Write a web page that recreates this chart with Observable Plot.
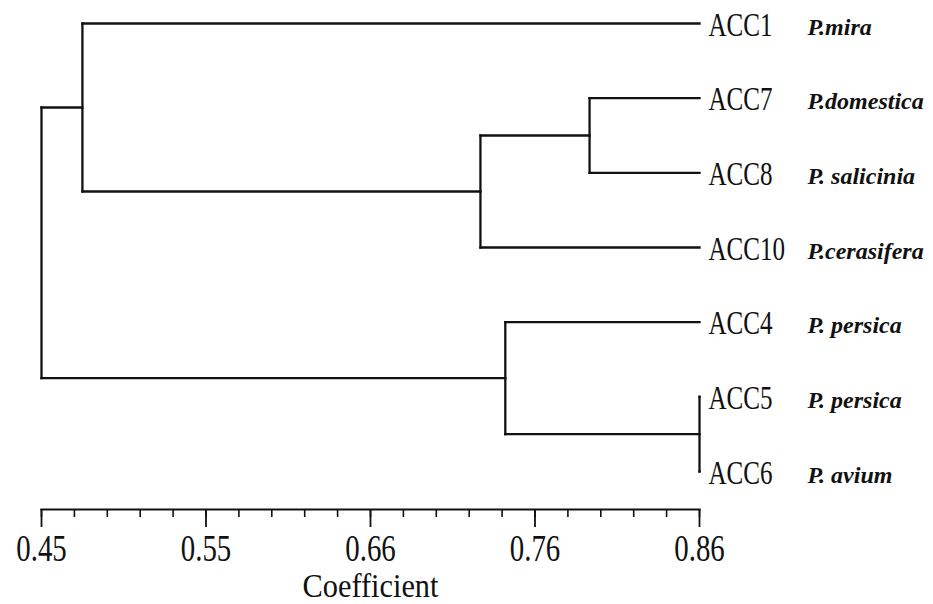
<!DOCTYPE html>
<html>
<head>
<meta charset="utf-8">
<script src="https://cdn.jsdelivr.net/npm/d3@7"></script>
<script src="https://cdn.jsdelivr.net/npm/@observablehq/plot@0.6"></script>
<style>
  html, body { margin: 0; padding: 0; background: #ffffff; }
  svg { display: block; }
</style>
</head>
<body>
<div id="chart"></div>
<script>
// Leaves (top to bottom) and species names
const leaves = ["ACC1", "ACC7", "ACC8", "ACC10", "ACC4", "ACC5", "ACC6"];
const species = ["P.mira", "P.domestica", "P. salicinia", "P.cerasifera", "P. persica", "P. persica", "P. avium"];

// Merges (cluster id, children, similarity coefficient)
const mergeIds  = ["n1", "n2", "n3", "n4", "n5", "root"];
const mergeA    = ["ACC7", "n1", "ACC1", "ACC5", "ACC4", "n3"];
const mergeB    = ["ACC8", "ACC10", "n2", "ACC6", "n4", "n5"];
const mergeCoef = [0.7915, 0.7235, 0.4755, 0.86, 0.739, 0.45];

// Axis
const axisDomain = [0.45, 0.86];
const majorTicks = [0.45, 0.5525, 0.655, 0.7575, 0.86];
const tickLabels = ["0.45", "0.55", "0.66", "0.76", "0.86"];
const minorTicks = d3.range(21).map(i => 0.45 + i * 0.0205);
const axisTitle = "Coefficient";

// Layout of the dendrogram
const pos = {};
leaves.forEach((n, i) => pos[n] = {x: axisDomain[1], y: i});
const segs = [];
mergeIds.forEach((id, k) => {
  const a = pos[mergeA[k]], b = pos[mergeB[k]], c = mergeCoef[k];
  pos[id] = {x: c, y: (a.y + b.y) / 2};
  segs.push({x1: c, y1: a.y, x2: c, y2: b.y});
  segs.push({x1: c, y1: a.y, x2: a.x, y2: a.y});
  segs.push({x1: c, y1: b.y, x2: b.x, y2: b.y});
});
const leafRows = leaves.map((n, i) => ({name: n, species: species[i], y: i, x: axisDomain[1]}));

const serif = "Liberation Serif";

const svg = Plot.plot({
  width: 933,
  height: 604,
  marginLeft: 41,
  marginRight: 234,
  marginTop: 23,
  marginBottom: 95,
  style: {fontFamily: serif, background: "#ffffff", color: "#111"},
  x: {domain: axisDomain, range: [41, 699]},
  y: {domain: [0, leaves.length - 1], range: [23, 471], axis: null},
  marks: [
    Plot.link(segs, {x1: "x1", y1: "y1", x2: "x2", y2: "y2", stroke: "#111", strokeWidth: 2.3, strokeLinecap: "square"}),
    Plot.text(leafRows, {x: "x", y: "y", text: "name", textAnchor: "start", lineAnchor: "bottom",
      dx: 9, dy: 12, fontSize: 33, fontFamily: serif, fill: "#111"}),
    Plot.text(leafRows, {x: "x", y: "y", text: "species", textAnchor: "start", lineAnchor: "bottom",
      dx: 108, dy: 11, fontSize: 24, fontFamily: serif, fontStyle: "italic", fontWeight: "bold", fill: "#111"}),
    Plot.frame({anchor: "bottom", stroke: "#111", strokeWidth: 2.2}),
    Plot.axisX(minorTicks, {tickSize: 8, tickFormat: () => "", strokeWidth: 1.6, stroke: "#111", label: null}),
    Plot.axisX(majorTicks, {tickSize: 18, tickFormat: () => "", strokeWidth: 1.8, stroke: "#111", label: null}),
    Plot.text(majorTicks, {x: d => d, text: (d, i) => tickLabels[i], frameAnchor: "bottom", lineAnchor: "bottom",
      dy: 51, fontSize: 37, fontFamily: serif, fill: "#111"}),
    Plot.text([axisTitle], {text: d => d, frameAnchor: "bottom", lineAnchor: "bottom",
      dy: 87, fontSize: 33, fontFamily: serif, fill: "#111"})
  ]
});

// Condense the serif glyphs horizontally, like the scanned figure
const squeeze = new Map();
leaves.forEach(n => squeeze.set(n, 0.76));
tickLabels.forEach(n => squeeze.set(n, 0.78));
squeeze.set(axisTitle, 0.92);
svg.querySelectorAll("text").forEach(el => {
  const s = squeeze.get(el.textContent);
  if (s == null) return;
  const x = el.getAttribute("x"), y = el.getAttribute("y");
  let t = el.getAttribute("transform") || "";
  if (x != null || y != null) {
    t += ` translate(${+x || 0},${+y || 0})`;
    el.removeAttribute("x");
    el.removeAttribute("y");
  }
  el.setAttribute("transform", (t + ` scale(${s},1)`).trim());
});

document.getElementById("chart").appendChild(svg);
</script>
</body>
</html>
